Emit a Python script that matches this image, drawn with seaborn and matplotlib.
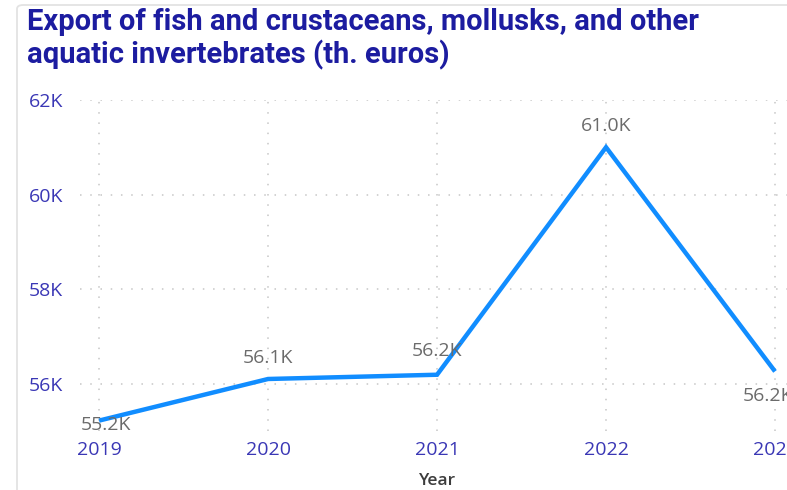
import matplotlib
matplotlib.use("Agg")
import matplotlib.pyplot as plt
import seaborn as sns
import pandas as pd
from matplotlib.patches import FancyBboxPatch
from matplotlib.ticker import FuncFormatter

years = [2019, 2020, 2021, 2022, 2023]
values = [55.22, 56.10, 56.19, 61.00, 56.26]  # thousands of euros
labels = ["55.2K", "56.1K", "56.2K", "61.0K", "56.2K"]
y_ticks = [56, 58, 60, 62]

title = "Export of fish and crustaceans, mollusks, and other\naquatic invertebrates (th. euros)"

sns.set_style("white")
plt.rcParams["font.family"] = ["Open Sans", "DejaVu Sans"]

df = pd.DataFrame({"Year": years, "Value": values})

W, H = 787, 490
fig = plt.figure(figsize=(W / 100, H / 100), dpi=100)
fig.patch.set_facecolor("white")

# border of visual
fig.patches.append(FancyBboxPatch((17 / W, -0.3), 1.2, 1.3 - 5 / H,
                                  boxstyle="round,pad=0,rounding_size=0.008",
                                  transform=fig.transFigure, fill=False,
                                  edgecolor="#E3E3E3", linewidth=1.3))

left_px, right_px = 80, 795
top_px, bot_px = 100, 431
ax = fig.add_axes([left_px / W, 1 - bot_px / H, (right_px - left_px) / W, (bot_px - top_px) / H])

sns.lineplot(data=df, x="Year", y="Value", ax=ax, color="#118DFF", linewidth=3.2,
             solid_joinstyle="miter", solid_capstyle="butt")

ax.set_xlim(2018.887, 2019 + (right_px - 99) / 169.0)
ax.set_ylim(55, 62)
ax.set_xticks(years)
ax.set_yticks(y_ticks)
ax.yaxis.set_major_formatter(FuncFormatter(lambda v, p: f"{int(v)}K"))
ax.grid(True, color="#C6C6C6", linestyle=(0, (1, 5.7)), linewidth=1.1)
for s in ax.spines.values():
    s.set_visible(False)
ax.tick_params(axis="both", length=0, colors="#3A37B5", labelsize=14)
ax.tick_params(axis="x", pad=7)
ax.tick_params(axis="y", pad=12)
ax.set_ylabel("")
ax.set_xlabel("Year", fontsize=12.5, color="#3C3C3C", fontweight="semibold", labelpad=10)

# label offsets in points (style only)
offsets = [(5, -3), (0, 15), (0, 17), (0, 15), (-5, -18)]
for x, v, lab, (dx, dy) in zip(years, values, labels, offsets):
    ax.annotate(lab, (x, v), xytext=(dx, dy), textcoords="offset points",
                ha="center", va="center", fontsize=14, color="#6B6B6B",
                annotation_clip=False)

fig.text(27 / W, 1 - 8 / H, title, ha="left", va="top", fontsize=21, fontweight="bold",
         color="#1C1CA0", family=["Roboto", "DejaVu Sans"], linespacing=1.17)

fig.savefig("out.png", dpi=100)
